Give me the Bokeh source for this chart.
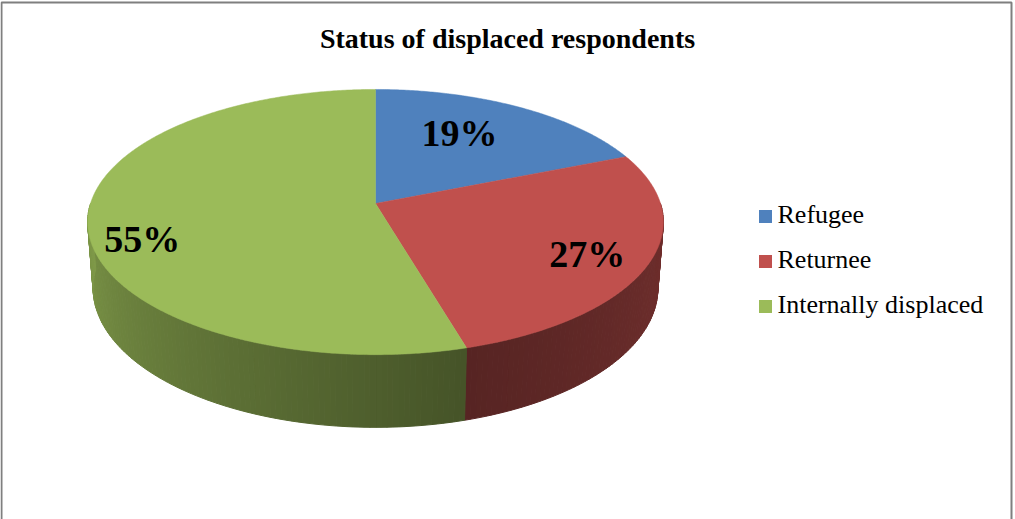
import numpy as np
from bokeh.plotting import figure
from bokeh.models import Range1d
from bokeh.core.properties import value
from bokeh.embed import file_html
from bokeh.resources import INLINE

# ---------------- data ----------------
title = "Status of displaced respondents"
categories = ["Refugee", "Returnee", "Internally displaced"]
percent = [19, 27, 55]
labels = ["19%", "27%", "55%"]

# ---------------- style ----------------
top_colors = ["#4F81BD", "#C0504D", "#9BBB59"]
label_radius = [0.6, 0.8, 0.8]
label_nudge = [(-5, -10), (-4, 3), (-4, 21)]
SERIF = value("Liberation Serif")

W, H = 1015, 519
cx, cy = 375.0, 203.0
R = 285.0
sinp = 130.0 / R
cosp = np.sqrt(1 - sinp ** 2)
D = 1812.0
depth = 75.0


def proj(theta_deg, r=1.0, Y=0.0):
    t = np.radians(theta_deg)
    X = r * R * np.sin(t)
    Z = -r * R * np.cos(t)
    yp = Y * cosp - Z * sinp
    zp = Y * sinp + Z * cosp
    s = D / (D - zp)
    return cx + X * s, cy - yp * s


def shade(hexcol, f):
    hexcol = hexcol.lstrip("#")
    rgb = [int(hexcol[i:i + 2], 16) for i in (0, 2, 4)]
    return "#%02x%02x%02x" % tuple(max(0, min(255, int(round(c * f)))) for c in rgb)


p = figure(width=W, height=H, output_backend="svg", toolbar_location=None,
           x_range=Range1d(0, W), y_range=Range1d(H, 0), min_border=0)
p.axis.visible = False
p.grid.visible = False
p.outline_line_color = None
p.background_fill_color = "white"
p.border_fill_color = "white"

vals = np.array(percent, dtype=float)
edges = np.concatenate([[0.0], np.cumsum(vals / vals.sum()) * 360.0])

# ---- side walls (front half only) ----
wx, wy, wc = [], [], []
for i in range(len(vals)):
    a0 = max(edges[i], 90.0)
    a1 = min(edges[i + 1], 270.0)
    if a1 <= a0:
        continue
    n = max(2, int((a1 - a0) / 1.0))
    ts = np.linspace(a0, a1, n + 1)
    for j in range(n):
        t0, t1 = ts[j], ts[j + 1]
        x0, y0 = proj(t0)
        x1, y1 = proj(t1)
        x2, y2 = proj(t1, Y=-depth)
        x3, y3 = proj(t0, Y=-depth)
        tm = 0.5 * (t0 + t1)
        b = np.interp(tm, [90, 165, 270], [0.6, 0.45, 0.82])
        wx.append([x0, x1, x2, x3])
        wy.append([y0, y1, y2, y3])
        wc.append(shade(top_colors[i], b))
p.patches(wx, wy, fill_color=wc, line_color=wc, line_width=1)

# ---- top faces ----
tx, ty = [], []
for i in range(len(vals)):
    ts = np.linspace(edges[i], edges[i + 1], max(3, int((edges[i + 1] - edges[i]) * 2)))
    xs, ys = proj(ts)
    tx.append([cx] + list(xs))
    ty.append([cy] + list(ys))
p.patches(tx, ty, fill_color=top_colors, line_color=top_colors, line_width=0.5)

# ---- data labels ----
lx, ly = [], []
for i in range(len(vals)):
    mid = 0.5 * (edges[i] + edges[i + 1])
    x, y = proj(mid, r=label_radius[i])
    lx.append(x + label_nudge[i][0])
    ly.append(y + label_nudge[i][1])
p.text(x=lx, y=ly, text=labels, text_font=SERIF, text_font_style="bold",
       text_font_size="38px", text_align="center", text_baseline="middle",
       text_color="black")

# ---- title ----
p.text(x=[507], y=[38], text=[title], text_font=SERIF, text_font_style="bold",
       text_font_size="28px", text_align="center", text_baseline="middle",
       text_color="black")

# ---- legend ----
ly0, lstep = 216, 45
leg_y = [ly0 + lstep * i for i in range(len(categories))]
p.rect(x=[765] * len(categories), y=leg_y, width=13, height=13,
       fill_color=top_colors, line_color=None)
p.text(x=[777] * len(categories), y=[v - 2 for v in leg_y], text=categories,
       text_font=SERIF, text_font_size="26px", text_align="left",
       text_baseline="middle", text_color="black")

# ---- outer border ----
p.quad(left=[1], right=[1011], top=[2], bottom=[560], fill_alpha=0,
       line_color="#7f7f7f", line_width=2)

open("out.html", "w").write(file_html(p, INLINE))
